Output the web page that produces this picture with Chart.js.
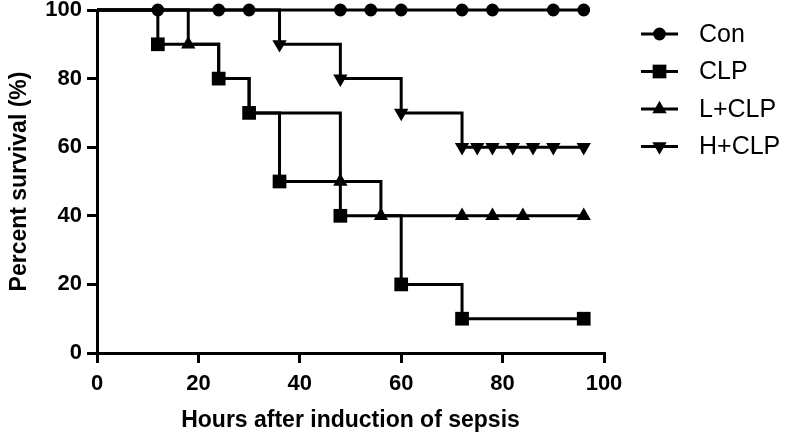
<!DOCTYPE html>
<html>
<head>
<meta charset="utf-8">
<script src="https://cdn.jsdelivr.net/npm/chart.js@4/dist/chart.umd.min.js"></script>
<style>
  html, body { margin: 0; padding: 0; background: #fff; }
  #wrap { width: 787px; height: 435px; }
</style>
</head>
<body>
<div id="wrap"><canvas id="c" width="787" height="435"></canvas></div>
<script>
// ---- data ----
const seriesNames = ['Con', 'CLP', 'L+CLP', 'H+CLP'];
const conTimes  = [0, 12, 24, 30, 48, 54, 60, 72, 78, 90, 96];
const conSurv   = [100, 100, 100, 100, 100, 100, 100, 100, 100, 100, 100];
const clpTimes  = [0, 12, 24, 30, 36, 48, 60, 72, 96];
const clpSurv   = [100, 90, 80, 70, 50, 40, 20, 10, 10];
const lclpTimes = [0, 18, 24, 30, 48, 56, 72, 78, 84, 96];
const lclpSurv  = [100, 90, 80, 70, 50, 40, 40, 40, 40, 40];
const hclpTimes = [0, 36, 48, 60, 72, 75, 78, 82, 86, 90, 96];
const hclpSurv  = [100, 90, 80, 70, 60, 60, 60, 60, 60, 60, 60];
const xTickValues = [0, 20, 40, 60, 80, 100];
const yTickValues = [0, 20, 40, 60, 80, 100];
const xTitle = 'Hours after induction of sepsis';
const yTitle = 'Percent survival (%)';

const toPts = (t, s) => t.map((x, i) => ({ x: x, y: s[i] }));
// hide marker at start point (and where a marker is fully covered by another series)
const radii = (t, r, hidden) => t.map((x, i) => (i === 0 || (hidden && hidden.includes(x))) ? 0 : r);

const FONT = '"Liberation Sans", Arial, sans-serif';

const styles = [
  { pointStyle: 'circle',   r: 6.4, rot: 0 },
  { pointStyle: 'rect',     r: 9.7, rot: 0 },
  { pointStyle: 'triangle', r: 8.3, rot: 0 },
  { pointStyle: 'triangle', r: 8.3, rot: 180 }
];

function ds(i, t, s, hidden) {
  const st = styles[i];
  return {
    label: seriesNames[i],
    data: toPts(t, s),
    showLine: true,
    stepped: 'before',
    borderColor: '#000',
    backgroundColor: '#000',
    borderWidth: 3,
    pointStyle: st.pointStyle,
    pointRotation: st.rot,
    pointRadius: radii(t, st.r, hidden),
    pointHoverRadius: radii(t, st.r, hidden),
    pointBorderWidth: 0,
    pointBackgroundColor: '#000',
    clip: false
  };
}

const legendPlugin = {
  id: 'kmLegend',
  afterDraw(chart) {
    const ctx = chart.ctx;
    const rows = [34, 71.5, 109, 146.5];
    ctx.save();
    chart.data.datasets.forEach((d, i) => {
      const y = rows[i];
      const st = styles[i];
      ctx.strokeStyle = '#000';
      ctx.lineWidth = 3;
      ctx.beginPath();
      ctx.moveTo(641, y);
      ctx.lineTo(678, y);
      ctx.stroke();
      ctx.fillStyle = '#000';
      Chart.helpers.drawPoint(ctx, { pointStyle: st.pointStyle, radius: st.r, rotation: st.rot, borderWidth: 0 }, 659.5, y);
      ctx.fillStyle = '#000';
      ctx.font = '25px ' + FONT;
      ctx.textAlign = 'left';
      ctx.textBaseline = 'middle';
      ctx.fillText(d.label, 699, y + 1);
    });
    ctx.restore();
  }
};

new Chart(document.getElementById('c'), {
  type: 'scatter',
  data: {
    datasets: [
      ds(0, conTimes, conSurv),
      ds(1, clpTimes, clpSurv),
      ds(2, lclpTimes, lclpSurv, [24, 30]),
      ds(3, hclpTimes, hclpSurv)
    ]
  },
  options: {
    responsive: false,
    animation: false,
    devicePixelRatio: 1,
    layout: { padding: { left: 0, top: 10, right: 183, bottom: 0 } },
    plugins: { legend: { display: false }, tooltip: { enabled: false } },
    scales: {
      x: {
        type: 'linear',
        min: 0, max: 100,
        afterFit(scale) { scale.height = 82; scale.paddingLeft = 0; scale.paddingRight = 0; },
        afterBuildTicks(scale) { scale.ticks = xTickValues.map(v => ({ value: v })); },
        border: { color: '#000', width: 3 },
        grid: { drawOnChartArea: false, drawTicks: true, tickLength: 10, color: '#000', lineWidth: 3 },
        ticks: { color: '#000', font: { family: FONT, size: 22, weight: 'bold' }, padding: 8, maxRotation: 0 },
        title: { display: true, text: xTitle, color: '#000', font: { family: FONT, size: 23, weight: 'bold' }, padding: { top: 0, bottom: 1 } }
      },
      y: {
        type: 'linear',
        min: 0, max: 100,
        afterFit(scale) { scale.width = 97; scale.paddingTop = 0; scale.paddingBottom = 0; },
        afterBuildTicks(scale) { scale.ticks = yTickValues.map(v => ({ value: v })); },
        border: { color: '#000', width: 3 },
        grid: { drawOnChartArea: false, drawTicks: true, tickLength: 10, color: '#000', lineWidth: 3 },
        ticks: { color: '#000', font: { family: FONT, size: 22, weight: 'bold' }, padding: 5 },
        title: { display: true, text: yTitle, color: '#000', font: { family: FONT, size: 23, weight: 'bold' }, padding: { top: 6, bottom: 0 } }
      }
    }
  },
  plugins: [legendPlugin]
});
</script>
</body>
</html>
